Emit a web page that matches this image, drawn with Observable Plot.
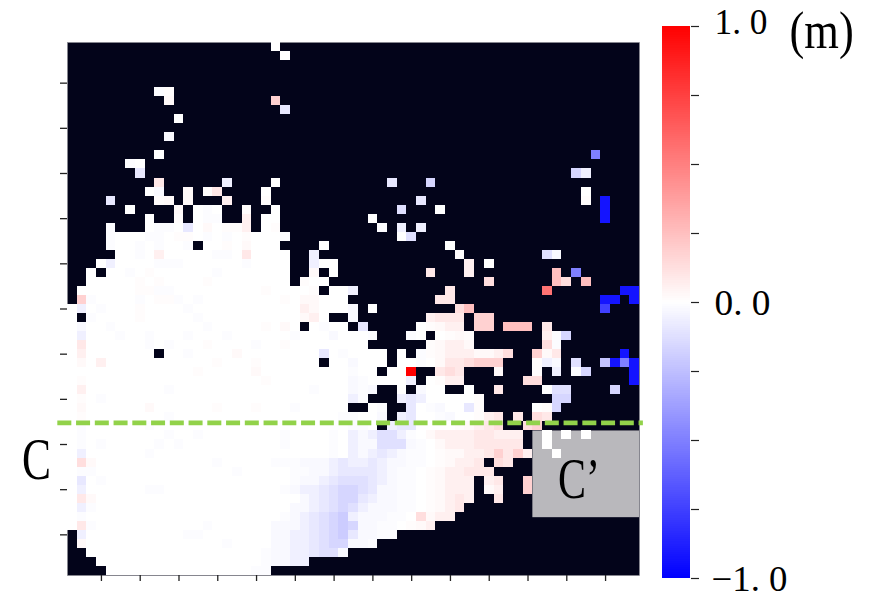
<!DOCTYPE html>
<html>
<head>
<meta charset="utf-8">
<script src="https://cdn.jsdelivr.net/npm/d3@7"></script>
<script src="https://cdn.jsdelivr.net/npm/@observablehq/plot@0.6"></script>
<style>
html,body{margin:0;padding:0;background:#fff}
#wrap{position:relative;width:874px;height:600px;overflow:hidden}
#wrap svg{position:absolute;left:0;top:0;background:transparent}
</style>
</head>
<body>
<div id="wrap"></div>
<script>
// Cell codes: "." = no data
const levelKeys   = ["0","a","b","c","d","e","f","g","h","i","j","k","A","B","C","D","E","F","G","H","I","K"];
const levelValues = [0,-.01,-.025,-.06,-.09,-.12,-.16,-.2,-.23,-.5,-.75,-.92,.01,.025,.06,.09,.13,.18,.25,.3,.55,1];
const gridRows = [
".......... .......... .0",
".......... .......... ..0",
"",
"",
"",
".........a A",
".......... B......... .F",
".......... .......... ..d",
".......... .0",
"",
".......... b",
"",
".........0 .......... .......... .......... .......... ....i",
"......a0",
".......d.. .......... .......... .......... .......... ..fc",
".........D ......c... .0........ ...d...f..",
"........0b ..B.AD.... 0......... .......... .......... ...0",
"....d....A B.B...C... A......... ......d... .......... ...A.k",
"......0... .B.0a0..A. .0........ ....e...0. .......... .....k",
"........0. .A.0aa..C. 00........ .0........ .......... .....k",
"....a...0a a0d0B0AAC. 0A........ ..a.c.c...",
"....a000aa 0AA0a0a0A0 00a....... ....0e....",
"....a00a0a 00a.00A0B0 00....0... .........0",
".....00a0C 00000aa0D0 000..c.... .......... A........e b",
"...0c0000a aa000000a0 000..c00.. .......... .C.0",
"..0.00a0A0 00000a0000 000..B.0.. .......D.. .C........ G.i",
"..00000A0A 0000A00000 000.A00... .......... ...E...... GE.G",
".000000AAa a000000000 A0000A.00c .........D .........I .......kk",
".Fa0000a0A Aa0a000000 00A0BB000. ........DD .......... .....kk.k",
"0c0a000A00 00a0000000 0000CB000b .0........ EG........ .....j",
"0.a0000A00 000a000000 0000BC0..b .......CDD D.FF......",
"0b00a00000 0000a00000 A0B0.0a00. d.....0ABC C.FF.GGG.D",
"0c000a00a0 00a000a000 000a000b00 0a...a0.0A BA.......C af",
"0D000000a0 a000A0000a 00A0000000 0......ABC CB.......E a",
"0C0000000. 00a0000B00 000000d0a0 000.0.aABC CCBBCE..FB D......k",
"0B0C000000 00000A000A 000000.00b 000.00a0BD DEFFF...Ac b.e..hkik",
"0000000000 000A00000B 000000000a 00.00K..DE D...B...A. c.af....k",
"0A00000000 0000000000 A00000000b a0000c.0AC C......EE. ........k",
"0C00000000 a000000000 00000a000b ab..0.b00. .0..D....0 ee....f",
"0A0a000000 0000000000 000000000c a...cdc000 00A....... ff",
"0B000000B0 00000A000A 000a00000. .0a..d0ab0 0dA.....0A f",
"0A00000000 a000000000 00000000aa 00b.cd00ab 00ACD.D.ED",
"0a000000a0 0000000000 000000000a a0.cdd0000 ABCDE..EF.",
"0a00000000 a00a000000 00a0000a0c bceeca0BCC CCDDCCC..0 .0.0",
"0a0a00000a 0a00000000 00a0000a0c bbeeeba0BC CCDDDDD..0",
"0c000000a0 0000000000 0000000a0c bcdcbaa0AB BCCDFDFC.. 0",
"0EB0000000 00000a0000 0aaabbbcdc cdcbbaa0AB CCD.ED....",
"0aa0000000 0000000a00 000aabbcdd ddcbaa0ABC CDDD......",
"0d0a000000 0000000000 000abbcdee edcbaa0ABC CC.CD..F..",
"0c000000aa 0000000000 00abccdeff edbbaa0ABC CC.BC..F..",
"0DB0000000 0000000000 0000bcdeff dcbbaa0ABC DC..D.....",
"0ca0000000 0000000000 000bbcdefe cbbbaa0ABC D",
"0a00000000 0000000000 00abcdefgc bbbaa0EBCC",
"0Da0000000 0000a00000 0bbbcdefgf bbaa0ABC",
".c00000000 00aa000000 0bbccdefgd bbaa",
".B00000000 000000a000 0bbccdeffb ba",
"..00000000 0000000000 abbccdeeb.",
"...0000000 0000000000 abbcc",
"....000000 000000000a a"
];
const gridSize = 59;
const xTickValues = [3.5,7.5,11.5,15.5,19.5,23.5,27.5,31.5,35.5,39.5,43.5,47.5,51.5,55.5];
const yTickValues = [4.5,9.5,14.5,19.5,24.5,29.5,34.5,39.5,44.5,49.5,54.5];
const cbarTicks = [-1,-.75,-.5,-.25,0,.25,.5,.75,1];
const cbarLabelValues = [1,0,-1];
const cbarLabelTexts = ["1. 0","0. 0","\u22121. 0"];
const cbarLabelShift = [-3.5,1,1.5];
const cbarLabelWidth = [53,56,76];
const sectionY = [42.1];
const sectionX = [-1.05, 59.35];
const greyBox = [{x1:48,x2:59,y1:43,y2:52.6}];

const code = new Map(levelKeys.map((k,i)=>[k,levelValues[i]]));
const cells = [];
gridRows.forEach((r,row)=>{
  [...r.replace(/ /g,"")].forEach((c,col)=>{
    if (c!==".") cells.push({col,row,value:code.get(c)});
  });
});
const colorOpt = {type:"linear",domain:[-1,0,1],range:["#0000ff","#ffffff","#ff0000"],interpolate:"rgb"};
const serif = "'Liberation Serif', serif";
// Narrow the glyphs the way the reference's font does
const fitWidth = w => (index, scales, values, dims, ctx, next) => {
  const g = next(index, scales, values, dims, ctx);
  g.querySelectorAll("text").forEach(t => {
    t.setAttribute("textLength", w);
    t.setAttribute("lengthAdjust", "spacingAndGlyphs");
  });
  return g;
};
const squeeze = s => (index, scales, values, dims, ctx, next) => {
  const g = next(index, scales, values, dims, ctx);
  g.querySelectorAll("text").forEach(t => {
    t.setAttribute("transform", (t.getAttribute("transform") || "") + ` scale(${s},1)`);
  });
  return g;
};

const heat = Plot.plot({
  width:874,height:600,marginLeft:67,marginRight:235,marginTop:42,marginBottom:25,
  style:{background:"transparent",overflow:"visible"},
  x:{domain:[0,gridSize],axis:null},
  y:{domain:[gridSize,0],axis:null},
  color:colorOpt,
  marks:[
    Plot.frame({fill:"#03041a",stroke:"#8a8a92",strokeWidth:.6}),
    Plot.rect(greyBox,{x1:"x1",x2:"x2",y1:"y1",y2:"y2",fill:"#b9b8bc"}),
    Plot.rect(cells,{x1:"col",x2:d=>d.col+1,y1:"row",y2:d=>d.row+1,fill:"value",shapeRendering:"crispEdges"}),
    Plot.axisX(xTickValues,{anchor:"bottom",tickSize:6,fill:"none",stroke:"#222",strokeWidth:1.3,label:null}),
    Plot.axisY(yTickValues,{anchor:"left",tickSize:7,fill:"none",stroke:"#222",strokeWidth:1.3,label:null}),
    Plot.line(sectionX.map(x=>({x,y:sectionY[0]})),{x:"x",y:"y",stroke:"#92d24a",strokeWidth:4.6,strokeDasharray:"14 4.75",strokeLinecap:"butt"}),
    Plot.text(["C"],{x:-3.2,y:46.16,fontFamily:serif,fontSize:60,fill:"#000",render:fitWidth(29)}),
    Plot.text(["C\u2019"],{x:52.75,y:48.4,fontFamily:serif,fontSize:56,fill:"#000",render:fitWidth(42)})
  ]
});

const cbarLevels = d3.range(-1,1,2/256);
const cbar = Plot.plot({
  width:874,height:600,marginLeft:662,marginRight:184,marginTop:26,marginBottom:22,
  style:{background:"transparent",overflow:"visible"},
  x:{domain:[0,1],axis:null},
  y:{domain:[-1,1],axis:null},
  color:colorOpt,
  marks:[
    Plot.rect(cbarLevels,{x1:0,x2:1,y1:d=>d,y2:d=>d+2/256,fill:d=>d+1/256,shapeRendering:"crispEdges"}),
    Plot.axisY(cbarTicks,{anchor:"right",tickSize:8,fill:"none",stroke:"#222",strokeWidth:1.2,label:null}),
    ...cbarLabelValues.map((v,i)=>Plot.text([cbarLabelTexts[i]],{x:1,y:v,textAnchor:"start",dx:i==2?21:24,dy:cbarLabelShift[i],fontFamily:serif,fontSize:35,fill:"#000",render:fitWidth(cbarLabelWidth[i])})),
    Plot.text(["(m)"],{x:1,y:1,textAnchor:"start",dx:99,dy:5,fontFamily:serif,fontSize:53,fill:"#000",render:squeeze(0.84)})
  ]
});
document.getElementById("wrap").append(heat, cbar);
</script>
</body>
</html>
